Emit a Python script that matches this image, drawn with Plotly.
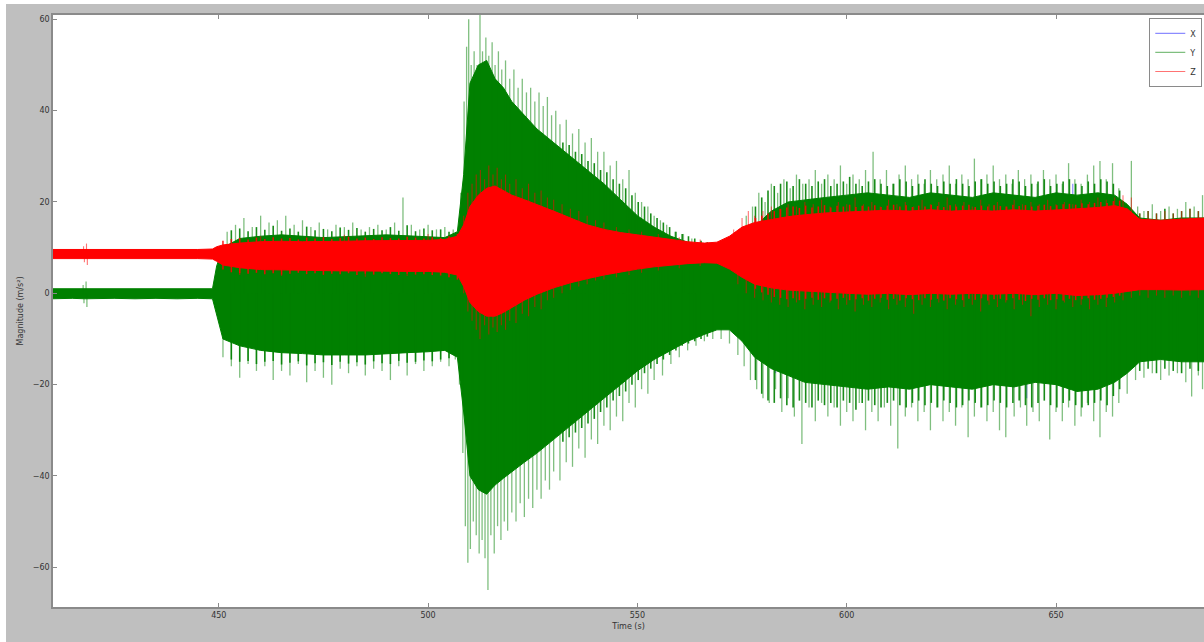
import plotly.graph_objects as go

# ---------------- data ----------------
# core envelope (dense oscillation band) time grid, seconds
t_core = [410, 415, 418, 421, 425, 430, 435, 440, 445, 448.5,
          449.5, 451, 455, 460, 465, 470, 475, 480, 485, 490,
          495, 500, 504, 507, 508.5, 510, 512, 514, 516, 518,
          520, 523, 526, 530, 534, 538, 542, 546, 550, 554,
          558, 562, 566, 569, 572, 575, 578, 582, 586, 590,
          595, 600, 605, 610, 615, 620, 625, 630, 635, 640,
          645, 650, 655, 660, 664, 667, 670, 675, 680, 685.5]

# Y axis (green) envelope
y_hi = [1.0, 1.0, 1.0, 1.0, 0.9, 1.0, 0.9, 1.0, 1.0, 1.0,
        6, 10, 12, 12.5, 12.8, 12.5, 12.2, 12.4, 12.6, 12.8,
        12.6, 12.4, 12.2, 13.5, 26, 46, 50, 51, 47, 45,
        42, 39, 36, 33, 30, 27, 24, 20.5, 17, 14.5,
        12.5, 11.2, 10.3, 9.8, 10.5, 12, 14.5, 18, 20, 20.5,
        21, 21.5, 22, 21.5, 21, 22, 21.5, 21, 22, 21.5,
        21, 22, 21.5, 22, 21.5, 19.5, 16.5, 16, 16.5, 16.5]
y_lo = [-1.2, -1.1, -1.2, -1.2, -1.1, -1.2, -1.1, -1.2, -1.1, -1.2,
        -5, -10, -11.5, -12.5, -13, -13.2, -13.5, -13.5, -13.5, -13.2,
        -13, -12.8, -12.5, -14, -26, -40, -43, -44, -42, -40.5,
        -39, -37, -35, -32, -29, -26, -23, -20, -17, -14.5,
        -12.5, -10.5, -9, -8, -8, -10.5, -14, -16.5, -18, -19.5,
        -20, -20.5, -21, -20.5, -21, -20, -20.5, -21, -20, -20.5,
        -19.5, -20, -21.5, -21, -19.5, -17.5, -15, -14.5, -15, -15]

# Z axis (red) envelope
z_hi = [9.6, 9.6, 9.6, 9.6, 9.5, 9.6, 9.5, 9.6, 9.6, 9.7,
        10.2, 10.6, 11, 11.3, 11.4, 11.3, 11.3, 11.4, 11.5, 11.5,
        11.6, 11.6, 11.8, 12.5, 15, 19, 21.5, 23, 23.5, 22.5,
        21.5, 20.5, 19.5, 18, 16.5, 15, 14, 13.3, 12.8, 12.3,
        11.8, 11.3, 11, 11.2, 12.5, 14.5, 15.5, 16.2, 16.8, 17.2,
        17.6, 17.8, 18, 18.2, 18, 18.3, 18, 18.2, 18, 18.3,
        18, 18.2, 18.5, 18.8, 19.2, 18.5, 16.2, 16, 16.3, 16.5]
z_lo = [7.6, 7.6, 7.6, 7.6, 7.6, 7.6, 7.6, 7.6, 7.6, 7.5,
        7, 6.2, 5.6, 5.2, 5.1, 5.0, 5.0, 4.9, 4.9, 4.9,
        4.8, 4.8, 4.6, 4, 1.5, -2, -4, -5, -5, -4.2,
        -3.2, -1.5, -0.2, 1.2, 2.3, 3.2, 4, 4.7, 5.3, 5.8,
        6.2, 6.5, 6.7, 6.6, 5.3, 3.5, 2, 1.2, 0.7, 0.4,
        0.2, 0, -0.2, 0, -0.3, 0, -0.2, 0, -0.2, 0,
        -0.3, 0, -0.5, -0.3, 0, 0.4, 0.8, 0.8, 0.7, 0.8]

# X axis (blue) envelope - almost entirely hidden under Y
t_x = [410, 449, 451, 470, 490, 507, 510, 515, 525, 540, 555, 570, 580, 600, 630, 660, 668, 685.5]
x_hi = [0.5, 0.5, 6, 8, 8, 8, 20, 30, 25, 18, 10, 6, 10, 15, 15, 15, 12, 12]
x_lo = [-0.5, -0.5, -6, -8, -8, -8, -20, -30, -25, -18, -10, -6, -10, -15, -15, -15, -12, -12]
x_spike_t = [583, 643, 654]
x_spike_v = [-17.5, -23, 24]

# individual tall peaks sticking out of the Y band
y_up_t = [417.6, 418.3, 452, 454, 456, 458, 460, 462, 464, 466, 468, 470, 472, 474, 476, 478, 480, 482, 484,
          486, 488, 490, 492, 494, 496, 498, 500, 502, 504, 506,
          507.8, 508.6, 509.2, 509.7, 510.3, 511, 511.7, 512.4, 513, 513.8, 514.5, 515.3, 516, 516.8,
          517.6, 518.5, 519.5, 520.5, 521.5, 522.5, 523.5, 524.5, 525.5, 526.5, 527.5, 528.5, 529.5,
          530.5, 531.5, 533, 534.5, 536, 537.5, 539, 540.5, 542, 543.5, 545, 546.5, 548, 549.5, 551,
          552.5, 554, 555.5, 557, 559, 561, 563,
          576, 577.5, 579, 580.5, 582, 583.5, 585, 586.5, 588, 589.5, 591, 592.5, 594, 595.5, 597,
          598.5, 600, 601.5, 603, 604.5, 606.3, 608, 609.5, 611, 612.5, 614, 615.5, 617, 618.5, 620,
          621.5, 623, 624.5, 626, 627.5, 629, 630.5, 632, 633.5, 635, 636.5, 638, 639.5, 641, 642.5,
          644, 645.5, 647, 648.5, 650, 651.5, 653, 654.5, 656, 657.5, 659, 660.5, 662, 663.5, 665,
          668, 669.5, 671, 673, 675, 677, 679, 681, 683, 685]
y_up_v = [1.8, 2.6, 13.5, 15, 16.5, 14.5, 17, 15.5, 16, 17, 15, 16, 14.5, 15.5, 14, 15, 14.5, 15.5, 14,
          14.5, 15, 14, 15.5, 21, 15, 14, 15, 14, 14.5, 14,
          22, 42, 54, 60, 50, 53, 50, 61, 53, 56, 52, 55, 50, 53,
          49, 51, 47, 49, 45, 47, 44, 45, 42, 44, 41, 43, 39,
          40, 37, 38, 35, 36, 33, 34, 31, 31, 28, 29, 25, 27, 22, 20,
          19, 17, 16, 15, 13.5, 13, 12,
          17, 19, 22, 20, 24, 22, 25, 23, 26, 24, 25, 27, 24, 26, 25,
          28, 24, 26, 25, 27, 31, 25, 27, 24, 26, 28, 25, 26, 24, 27,
          25, 26, 28, 24, 26, 25, 29.5, 25, 26, 28, 25, 26, 24, 27, 25,
          26, 24, 27, 25, 26, 24, 28.5, 25, 24, 26, 28, 29, 25, 28.5, 23,
          29, 19, 18, 19.5, 18, 19, 18.5, 20, 19, 21.5]

y_dn_t = [417.8, 418.5, 451, 453, 455, 457, 459, 461, 463, 465, 467, 469, 471, 473, 475, 477, 479, 481, 483,
          485, 487, 489, 491, 493, 495, 497, 499, 501, 503, 505, 506.5,
          507.5, 508.3, 508.9, 509.5, 510.1, 510.8, 511.5, 512.2, 512.9, 513.6, 514.3, 515, 515.8,
          516.6, 517.4, 518.2, 519, 520, 521, 522, 523, 524, 525, 526, 527, 528, 529, 530, 531.5,
          533, 534.5, 536, 537.5, 539, 540.5, 542, 543.5, 545, 546.5, 548, 549.5, 551, 552.5, 554,
          556, 558, 560, 562, 564, 566, 568, 570, 572, 574, 575.5, 577, 578.5, 580,
          581.5, 583, 584.5, 586, 587.5, 589.3, 591, 592.5, 594, 595.5, 597, 598.5, 600, 601.5, 603,
          604.5, 606, 607.5, 609, 610.5, 612.2, 614, 615.5, 617, 618.5, 620, 621.5, 623, 624.5, 626,
          627.5, 629, 630.5, 632, 633.5, 635, 636.5, 638, 640, 641.5, 643, 644.5, 646, 648.5, 650,
          651.5, 653, 654.5, 656, 657.5, 659, 660.5, 662, 663.5, 665, 667, 669, 671, 673, 675, 677,
          679, 681, 682.4, 684, 685]
y_dn_v = [-2.2, -3, -14, -16, -18.5, -15.5, -17, -16, -19, -17, -18, -15.5, -19.5, -17, -18.5, -20, -16.5,
          -17.5, -16, -18, -16.5, -17, -19, -16, -18, -15.5, -17, -16, -15, -16, -14.5,
          -20, -35, -51, -59, -56, -50, -53, -57, -54, -58, -65, -53, -57,
          -51, -54, -50, -52, -48, -50, -46, -49, -45, -47, -43, -45, -41, -43, -39, -41,
          -37, -38, -34, -36, -32, -33, -29, -30, -27, -28, -24, -25, -21, -22, -19,
          -18, -15.5, -14, -12.5, -11.5, -10.5, -10, -10, -11, -13.5, -16, -19, -21, -23,
          -24, -21, -26, -23, -27, -33, -25, -28, -24, -27, -25, -29, -26, -28, -24,
          -30, -26, -28, -25, -29, -34, -27, -25, -28, -26, -30, -25, -28, -26, -29,
          -25, -31.5, -27, -25, -28, -26, -30, -31.5, -27, -25, -29, -26, -28, -32, -26,
          -28, -25, -29, -27, -24, -28, -31.5, -26, -27, -24, -22, -19, -18.5, -17.5, -19, -18,
          -17.5, -19.5, -22.6, -18, -21]

# short, dense peaks forming the ragged edge of the Y band
y_fz_t = [453, 455, 457, 459, 461, 463, 465, 467, 469, 471, 473, 475, 477, 479, 481, 483, 485, 487,
          489, 491, 493, 495, 497, 499, 501, 503, 505,
          532.2, 533.7, 535.2, 536.7, 538.2, 539.7, 541.2, 542.7, 544.2, 545.7, 547.2, 548.7,
          550.2, 551.7, 553.2, 554.7, 556.2, 557.7, 559.2, 560.7, 562.2, 563.7, 565.2, 566.7,
          578.2, 579.7, 581.2, 582.7, 584.2, 585.7, 587.2, 588.7, 590.2, 591.7, 593.2, 594.7,
          596.2, 597.7, 599.2, 600.7, 602.2, 603.7, 605.2, 606.7, 608.2, 609.7, 611.2, 612.7,
          614.2, 615.7, 617.2, 618.7, 620.2, 621.7, 623.2, 624.7, 626.2, 627.7, 629.2, 630.7,
          632.2, 633.7, 635.2, 636.7, 638.2, 639.7, 641.2, 642.7, 644.2, 645.7, 647.2, 648.7,
          650.2, 651.7, 653.2, 654.7, 656.2, 657.7, 659.2, 660.7, 662.2, 663.7, 665.2,
          670, 672, 674, 676, 678, 680, 682, 684]
y_fz_up = [13.8, 14.2, 13.6, 14.5, 13.9, 14.8, 13.7, 14.2, 13.5, 14.6, 13.8, 14.1, 13.6, 14.4, 13.9,
           14.3, 13.5, 14.1, 13.8, 14.5, 13.7, 14.9, 13.6, 14.2, 13.8, 14, 13.5,
           33, 32.5, 31, 30.5, 29, 28.5, 27, 26.5, 25, 24, 23, 21.5,
           20, 19, 17.5, 16.5, 15.5, 14.5, 13.5, 13, 12.5, 12, 11.5, 11.2,
           19, 21, 22.5, 23.5, 24, 24.5, 23.5, 25, 24, 23.5, 24.5, 25,
           23.5, 24, 24.5, 25.5, 24, 23.5, 24.5, 25, 24, 23.5, 24, 25,
           24.5, 23.5, 24, 25, 24, 23.5, 24.5, 24, 25, 24, 23.5, 24.5,
           25, 24, 24.5, 23.5, 24, 25, 24.5, 23.5, 24, 24.5, 25, 23.5,
           24, 24.5, 25, 24, 23.5, 24.5, 24, 25, 24.5, 24, 22.5,
           17.5, 18, 17.5, 18.5, 17.5, 18, 18.5, 18]
y_fz_dn = [-14.5, -15, -14.8, -15.5, -15, -14.8, -15.6, -15.2, -14.9, -15.8, -15.3, -15.1, -15.7, -15,
           -15.4, -15.1, -15.6, -14.9, -15.3, -15.5, -14.8, -15.2, -15, -14.7, -14.9, -14.5, -14.2,
           -32.5, -31.5, -30.5, -29.5, -28.5, -27.5, -26, -25, -23.5, -22.5, -21.5, -20,
           -19, -17.5, -16.5, -15.5, -14.5, -13.5, -12.5, -11.5, -11, -10.5, -10, -9.5,
           -19, -22, -23.5, -24, -23, -24.5, -25, -23.5, -24, -25, -23.5, -24.5,
           -24, -25, -23.5, -24, -25.5, -24, -23.5, -24.5, -25, -24, -23.5, -24.5,
           -25, -24, -23.5, -24.5, -24, -25, -23.5, -24, -25, -24.5, -23.5, -24,
           -25, -24.5, -23.5, -24, -25, -24, -23.5, -24.5, -25, -24, -23.5, -24.5,
           -25, -24, -23.5, -24.5, -25, -24.5, -24, -23.5, -24.5, -22.5, -21,
           -17, -16.5, -17.5, -16.5, -17, -17.5, -16.5, -17]

# individual peaks sticking out of the Z band
z_up_t = [417.7, 418.4, 460, 480, 500,
          508.5, 509.5, 510.5, 511.5, 512.5, 513.5, 514.5, 515.5, 516.5, 517.5, 518.5, 519.5, 521,
          522.5, 524, 525.5, 527, 528.5, 530, 532, 534, 536, 538, 540, 542, 545, 548, 551, 555, 560, 565,
          573, 575, 576.5, 578, 580, 582, 584, 586,
          588, 590, 592, 594, 596, 598, 600, 602, 604, 606, 608, 610, 612, 614, 616, 618, 620, 622,
          624, 626, 628, 630, 632, 634, 636, 638, 640, 642, 644, 646, 648, 650, 652, 654, 656, 658,
          660, 662, 664, 666, 668, 670, 672, 674, 676, 678, 680, 682, 684]
z_up_v = [10.3, 10.9, 12.5, 12.8, 13,
          17, 22, 24, 26, 27, 25, 28, 26, 27.5, 25, 26, 24, 25,
          23, 24, 22, 22.5, 21, 20.5, 19.5, 18.5, 18, 17, 16, 15.5, 14.5, 14, 13.5, 13, 12.3, 11.8,
          14, 16.5, 18, 17, 18, 19, 18.5, 19.5,
          19, 20, 19.5, 20.5, 19, 20, 19.5, 21, 19.5, 20, 19, 20.5, 19.5, 20, 19, 20.5, 19.5, 20,
          21, 19.5, 20, 19, 20.5, 19.5, 20, 19, 20.5, 19.5, 20, 19.5, 20.5, 19.5, 20, 19.5, 20.5, 20,
          21, 20.5, 21, 21.5, 21, 17.5, 18, 17.5, 18, 17.5, 18, 18.5, 18]

z_dn_t = [417.9, 418.6, 455, 465, 475, 485, 495, 505,
          508.5, 509.5, 510.5, 511.5, 512.4, 513.5, 514.5, 515.5, 516.5, 517.5, 518.5, 519.5, 521,
          522.5, 524, 525.5, 527, 528.5, 530, 532, 534, 536, 538, 540, 542, 545, 548, 551, 555, 560, 565,
          574, 576, 578, 580,
          582, 584, 586, 588, 590, 592, 594, 596, 598, 600, 602, 604, 606, 608, 610, 612, 614, 616,
          618, 620, 622, 624, 626, 628, 630, 632, 634, 636, 638, 640, 642, 644, 646, 648, 650, 652,
          654, 656, 658, 660, 662, 664, 666, 668, 670, 672, 674, 676, 678, 680, 682, 684]
z_dn_v = [6.8, 6.2, 4.0, 3.8, 4, 3.6, 3.8, 3.5,
          0, -4, -6, -8, -10, -7, -9, -7.5, -8.5, -7, -8, -6, -6.5,
          -4.5, -5, -3, -3.5, -1.5, -1, 0, 0.8, 1.5, 2, 2.8, 3, 3.5, 4, 4.5, 5, 5.5, 6,
          2, 0, -1, -1.5,
          -2, -2.5, -3, -2, -3.5, -2.5, -3, -2, -3.5, -2.5, -4, -2.5, -3, -2, -3.5, -2.5, -3, -4.5,
          -2.5, -3, -2, -3.5, -2.5, -3, -2.5, -4, -2.5, -3, -2, -3.5, -2.5, -5, -3, -2.5, -3.5, -2,
          -3, -2.5, -3.5, -2.5, -3, -2, -1.5, -1, -0.5, -1, -0.5, -1, -0.5, -1, -0.5, -1]

# short, dense peaks forming the ragged edge of the Z band
z_fz_t = [451, 453, 455, 457, 459, 461, 463, 465, 467, 469, 471, 473, 475, 477, 479, 481, 483, 485,
          487, 489, 491, 493, 495, 497, 499, 501, 503, 505, 507,
          578.2, 579.7, 581.2, 582.7, 584.2, 585.7, 587.2, 588.7, 590.2, 591.7, 593.2, 594.7,
          596.2, 597.7, 599.2, 600.7, 602.2, 603.7, 605.2, 606.7, 608.2, 609.7, 611.2, 612.7,
          614.2, 615.7, 617.2, 618.7, 620.2, 621.7, 623.2, 624.7, 626.2, 627.7, 629.2, 630.7,
          632.2, 633.7, 635.2, 636.7, 638.2, 639.7, 641.2, 642.7, 644.2, 645.7, 647.2, 648.7,
          650.2, 651.7, 653.2, 654.7, 656.2, 657.7, 659.2, 660.7, 662.2, 663.7, 665.2]
z_fz_up = [11.5, 11.9, 12.1, 11.8, 12.2, 11.9, 12.3, 12, 12.1, 11.8, 12.2, 12, 12.3, 11.9, 12.1,
           12.4, 12, 12.2, 11.9, 12.3, 12.1, 12, 12.4, 12.2, 12, 12.3, 12.1, 12.5, 13,
           16.5, 17, 17.5, 18, 18.5, 18.8, 19, 18.7, 19.2, 18.8, 19, 19.3,
           18.8, 19.2, 19, 19.4, 18.9, 19.2, 19, 19.3, 18.9, 19.2, 19.4, 19,
           19.3, 18.9, 19.2, 19, 19.4, 19.1, 18.9, 19.3, 19, 19.2, 19.4, 18.9,
           19.2, 19, 19.3, 19.1, 19, 19.4, 19.1, 19.3, 19, 19.2, 19.4, 19.1,
           19.3, 19.5, 19.6, 19.4, 19.7, 19.5, 19.8, 20, 19.8, 20.2, 20.3]
z_fz_dn = [5.2, 4.6, 4.4, 4.3, 4.5, 4.2, 4.4, 4.1, 4.3, 4.5, 4.2, 4.4, 4.1, 4.3, 4.2, 4.4, 4.0, 4.3,
           4.1, 4.4, 4.2, 4.0, 4.3, 4.1, 4.2, 4.0, 3.9, 3.5, 3.0,
           1, 0.2, -0.3, -0.8, -1, -1.3, -1.1, -1.5, -1.2, -1, -1.4, -1.1,
           -1.6, -1.2, -1, -1.5, -1.3, -1.1, -1.6, -1.2, -1, -1.4, -1.2, -1.6,
           -1.1, -1.3, -1.5, -1.1, -1.4, -1.2, -1.6, -1.1, -1.3, -1.5, -1.2, -1.4,
           -1.1, -1.6, -1.3, -1.2, -1.5, -1.1, -1.4, -1.7, -1.2, -1.4, -1.1, -1.5,
           -1.3, -1.6, -1.2, -1.5, -1.3, -1.1, -1.4, -1.2, -1.0, -0.8, -0.5]

x_ticks = [450, 500, 550, 600, 650]
y_ticks = [-60, -40, -20, 0, 20, 40, 60]
series_names = ["X", "Y", "Z"]

# ---------------- styling ----------------
BLUE = "#0000ff"
GREEN = "#008000"
RED = "#ff0000"


def band(t, hi, lo, color):
    return go.Scatter(x=list(t) + list(t)[::-1], y=list(hi) + list(lo)[::-1],
                      mode="lines", fill="toself", fillcolor=color,
                      line=dict(color=color, width=1), hoverinfo="skip", showlegend=False)


def spikes(ts, vs, base, color, width, name=None):
    xs, ys = [], []
    for t, v in zip(ts, vs):
        xs += [t, t, None]
        ys += [base, v, None]
    return go.Scatter(x=xs, y=ys, mode="lines", line=dict(color=color, width=width),
                      name=name, showlegend=name is not None, hoverinfo="skip")


fig = go.Figure()
fig.add_trace(band(t_x, x_hi, x_lo, BLUE))
fig.add_trace(spikes(x_spike_t, x_spike_v, 0, "rgba(0,0,255,0.45)", 1.2, series_names[0]))
fig.add_trace(band(t_core, y_hi, y_lo, GREEN))
fig.add_trace(spikes(y_fz_t + y_fz_t, y_fz_up + y_fz_dn, 0, "rgba(0,128,0,0.9)", 1.6))
fig.add_trace(spikes(y_up_t + y_dn_t, y_up_v + y_dn_v, 0, "rgba(0,128,0,0.5)", 1.3, series_names[1]))
fig.add_trace(band(t_core, z_hi, z_lo, RED))
fig.add_trace(spikes(z_fz_t + z_fz_t, z_fz_up + z_fz_dn, 8.5, "rgba(255,0,0,0.9)", 1.5))
fig.add_trace(spikes(z_up_t + z_dn_t, z_up_v + z_dn_v, 8.5, "rgba(255,0,0,0.55)", 1.1, series_names[2]))

W, H = 1204, 642
ML, MR, MT, MB = 53, 0, 15, 35
PW, PH = W - ML - MR, H - MT - MB

axis_common = dict(showgrid=False, zeroline=False, showline=True, linecolor="#8a8a8a", linewidth=1.5,
                   ticks="inside", ticklen=4, tickwidth=1, tickcolor="#8a8a8a",
                   tickfont=dict(family="DejaVu Sans", size=8, color="#333333"))

fig.update_layout(
    width=W, height=H,
    margin=dict(l=ML, r=MR, t=MT, b=MB, pad=0),
    paper_bgcolor="#bfbfbf", plot_bgcolor="#ffffff",
    font=dict(family="DejaVu Sans", size=8, color="#333333"),
    xaxis=dict(range=[410.4, 685.35], tickvals=x_ticks, mirror="ticks",
               title=dict(text="Time (s)", standoff=4, font=dict(size=8)), **axis_common),
    yaxis=dict(range=[-68.7, 60.95], tickvals=y_ticks,
               title=dict(text="Magnitude (m/s²)", standoff=8, font=dict(size=8)), **axis_common),
    legend=dict(x=0.9985, y=0.995, xanchor="right", yanchor="top", bgcolor="#ffffff",
                bordercolor="#8a8a8a", borderwidth=1, font=dict(size=8, color="#333333"),
                itemwidth=30, tracegroupgap=0),
    showlegend=True,
    shapes=[
        dict(type="rect", xref="paper", yref="paper", x0=-ML / PW, x1=-(ML - 6) / PW,
             y0=-MB / PH, y1=1 + MT / PH, fillcolor="#ffffff", line=dict(width=0), layer="above"),
        dict(type="rect", xref="paper", yref="paper", x0=-ML / PW, x1=1,
             y0=1 + (MT - 4) / PH, y1=1 + MT / PH, fillcolor="#ffffff", line=dict(width=0), layer="above"),
    ],
)

fig.write_html("out.html")
